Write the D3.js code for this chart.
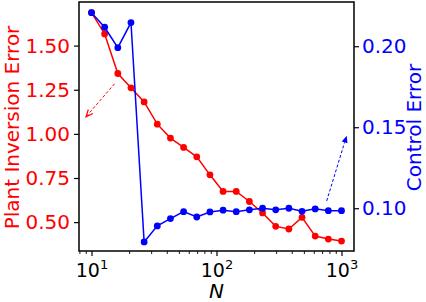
<!DOCTYPE html>
<html><head><meta charset="utf-8">
<script src="https://cdn.jsdelivr.net/npm/d3@7"></script>
<style>body{margin:0;background:#fff}svg{display:block;font-family:"DejaVu Sans",sans-serif}</style>
</head><body><svg id="c" width="426" height="302"></svg>
<script>
const N = [10, 12.74, 16.24, 20.69, 26.37, 33.6, 42.81, 54.56, 69.52, 88.59, 112.88, 143.84, 183.3, 233.57, 297.64, 379.27, 483.29, 615.85, 784.76, 1000];
const plantError = [1.687, 1.566, 1.342, 1.261, 1.181, 1.055, 0.976, 0.923, 0.870, 0.768, 0.674, 0.674, 0.617, 0.552, 0.476, 0.461, 0.527, 0.421, 0.404, 0.393];
const controlError = [0.2207, 0.2117, 0.1991, 0.2146, 0.0792, 0.0891, 0.0936, 0.0979, 0.0946, 0.0977, 0.0988, 0.0979, 0.0990, 0.1000, 0.0990, 0.1000, 0.0981, 0.0996, 0.0985, 0.0985];
const leftTicks = [0.50, 0.75, 1.00, 1.25, 1.50];
const rightTicks = [0.10, 0.15, 0.20];
const xTicks = [10, 100, 1000];
const xTickExp = ["1", "2", "3"];
// annotation arrows in data units: [N start, value start, N end, value end]
const redArrow = [15.3, 1.284, 9.04, 1.097];
const blueArrow = [761, 0.1045, 1100, 0.1448];

const svg = d3.select("#c");
const L = 79, R = 354, T = 2, B = 251;
const x = d3.scaleLog().domain([Math.pow(10,0.9), Math.pow(10,3.1)]).range([L, R]);
const yL = d3.scaleLinear().domain([0.3365, 1.747]).range([B, T]);
const yR = d3.scaleLinear().domain([0.0736, 0.2273]).range([B, T]);
const red = "#ff0000", blue = "#0000ff";

// left axis
const gL = svg.append("g").attr("transform", `translate(${L},0)`)
  .call(d3.axisLeft(yL).tickValues(leftTicks).tickFormat(d3.format(".2f")).tickSize(5).tickPadding(4));
gL.select(".domain").remove();
gL.selectAll("line").attr("stroke", "#000").attr("stroke-width", 1.2);
gL.selectAll("text").attr("fill", red).attr("font-size", 20).attr("font-family", "DejaVu Sans");

// right axis
const gR = svg.append("g").attr("transform", `translate(${R},0)`)
  .call(d3.axisRight(yR).tickValues(rightTicks).tickFormat(d3.format(".2f")).tickSize(5).tickPadding(3));
gR.select(".domain").remove();
gR.selectAll("line").attr("stroke", "#000").attr("stroke-width", 1.2);
gR.selectAll("text").attr("fill", blue).attr("font-size", 20).attr("font-family", "DejaVu Sans");

// x axis minor ticks
const minor = [];
for (let e = 0; e <= 3; e++) for (let m = 2; m <= 9; m++) { const v = m * Math.pow(10, e); if (v >= x.domain()[0] && v <= x.domain()[1]) minor.push(v); }
const gXm = svg.append("g").attr("transform", `translate(0,${B})`)
  .call(d3.axisBottom(x).tickValues(minor).tickFormat("").tickSize(3));
gXm.select(".domain").remove();
gXm.selectAll("line").attr("stroke", "#000").attr("stroke-width", 0.9);

const gX = svg.append("g").attr("transform", `translate(0,${B})`)
  .call(d3.axisBottom(x).tickValues(xTicks).tickFormat("").tickSize(5));
gX.select(".domain").remove();
gX.selectAll("line").attr("stroke", "#000").attr("stroke-width", 1.2);
gX.selectAll(".tick").each(function(d, i) {
  const t = d3.select(this).append("text").attr("y", 26).attr("fill", "#000")
    .attr("text-anchor", "middle").attr("font-family", "DejaVu Sans");
  t.append("tspan").attr("font-size", 19).text("10");
  t.append("tspan").attr("font-size", 13).attr("dy", -8).text(xTickExp[i]);
});

// axis labels
svg.append("text").attr("x", (L + R) / 2).attr("y", 298).attr("text-anchor", "middle")
  .attr("font-size", 20).attr("font-style", "italic").attr("fill", "#000").text("N");
svg.append("text").attr("transform", `translate(18.5,127.5) rotate(-90)`).attr("text-anchor", "middle")
  .attr("font-size", 20).attr("fill", red).text("Plant Inversion Error");
svg.append("text").attr("transform", `translate(421,127.5) rotate(-90)`).attr("text-anchor", "middle")
  .attr("font-size", 20).attr("fill", blue).text("Control Error");

// red series
svg.append("path").datum(N.map((n, i) => [n, plantError[i]]))
  .attr("fill", "none").attr("stroke", red).attr("stroke-width", 1.5)
  .attr("d", d3.line().x(d => x(d[0])).y(d => yL(d[1])));
svg.append("g").selectAll("circle").data(N.map((n, i) => [n, plantError[i]])).join("circle")
  .attr("cx", d => x(d[0])).attr("cy", d => yL(d[1])).attr("r", 3.4).attr("fill", red);

// blue series
svg.append("path").datum(N.map((n, i) => [n, controlError[i]]))
  .attr("fill", "none").attr("stroke", blue).attr("stroke-width", 1.5)
  .attr("d", d3.line().x(d => x(d[0])).y(d => yR(d[1])));
svg.append("g").selectAll("circle").data(N.map((n, i) => [n, controlError[i]])).join("circle")
  .attr("cx", d => x(d[0])).attr("cy", d => yR(d[1])).attr("r", 3.4).attr("fill", blue);

// arrows
function arrow(a, ys, color, filled) {
  const x1 = x(a[0]), y1 = ys(a[1]), x2 = x(a[2]), y2 = ys(a[3]);
  const ang = Math.atan2(y2 - y1, x2 - x1);
  const hl = 7, hw = 3;
  const bx = x2 - hl * Math.cos(ang), by = y2 - hl * Math.sin(ang);
  svg.append("line").attr("x1", x1).attr("y1", y1).attr("x2", filled ? bx : x2).attr("y2", filled ? by : y2)
    .attr("stroke", color).attr("stroke-width", 1).attr("stroke-dasharray", "3,2");
  const p1 = [bx + hw * Math.sin(ang), by - hw * Math.cos(ang)];
  const p2 = [bx - hw * Math.sin(ang), by + hw * Math.cos(ang)];
  if (filled) {
    svg.append("path").attr("d", `M${x2},${y2}L${p1[0]},${p1[1]}L${p2[0]},${p2[1]}Z`).attr("fill", color);
  } else {
    svg.append("path").attr("d", `M${p1[0]},${p1[1]}L${x2},${y2}L${p2[0]},${p2[1]}`)
      .attr("fill", "none").attr("stroke", color).attr("stroke-width", 1.2);
  }
}
arrow(redArrow, yL, red, false);
arrow(blueArrow, yR, blue, true);

// frame
svg.append("rect").attr("x", L).attr("y", T).attr("width", R - L).attr("height", B - T)
  .attr("fill", "none").attr("stroke", "#000").attr("stroke-width", 1.5);
</script></body></html>
